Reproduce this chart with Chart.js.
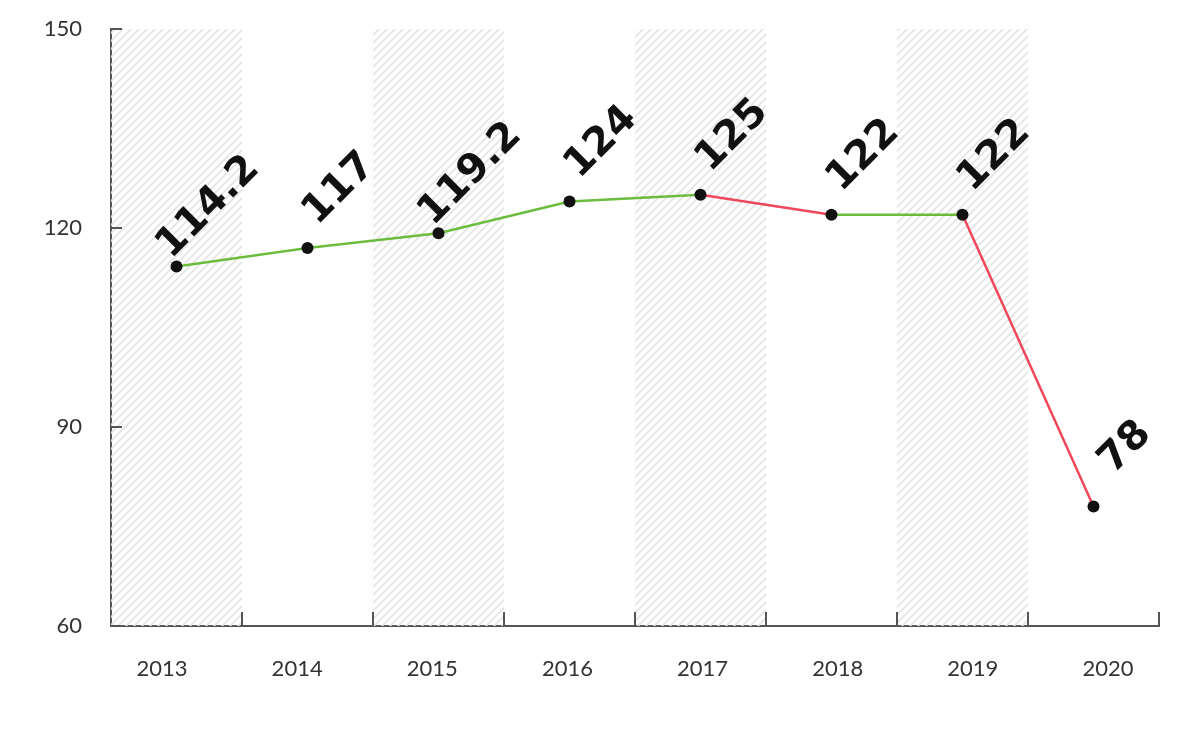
<!DOCTYPE html>
<html>
<head>
<meta charset="utf-8">
<script src="https://cdn.jsdelivr.net/npm/chart.js@4.4.1/dist/chart.umd.min.js"></script>
<style>
  body { margin: 0; background: #fff; }
  #wrap { width: 1199px; height: 729px; position: relative; }
</style>
</head>
<body>
<div id="wrap"><canvas id="chart"></canvas></div>
<script>
const years = ['2013', '2014', '2015', '2016', '2017', '2018', '2019', '2020']
const values = [114.2, 117, 119.2, 124, 125, 122, 122, 78]
const valueLabels = ['114.2', '117', '119.2', '124', '125', '122', '122', '78']
const yTicks = [60, 90, 120, 150]
// which category bands get the striped background
const stripedBands = [true, false, true, false, true, false, true, false]

const UP = '#6cbd3e'
const DOWN = '#f0475a'
const AXIS = '#555'

/** diagonal hatch pattern */
function makeHatch() {
    const c = document.createElement('canvas')
    c.width = 8
    c.height = 8
    const g = c.getContext('2d')
    g.strokeStyle = '#e4e4e4'
    g.lineWidth = 1.8
    g.beginPath()
    g.moveTo(0, 8); g.lineTo(8, 0)
    g.moveTo(-4, 4); g.lineTo(4, -4)
    g.moveTo(4, 12); g.lineTo(12, 4)
    g.stroke()
    return g.createPattern(c, 'repeat')
}

/** striped bands behind the line */
const bandsPlugin = {
    id: 'bands',
    beforeDatasetsDraw(chart) {
        const {ctx, chartArea, scales: {xp}} = chart
        const w = (xp.right - xp.left) / years.length
        ctx.save()
        ctx.fillStyle = makeHatch()
        stripedBands.forEach((on, i) => {
            if (!on) return
            const cx = xp.getPixelForValue(i)
            ctx.fillRect(cx - w / 2, chartArea.top, w, chartArea.bottom - chartArea.top)
        })
        ctx.restore()
    }
}

/** small tick marks pointing into the chart */
const ticksPlugin = {
    id: 'innerTicks',
    afterDraw(chart) {
        const {ctx, chartArea, scales: {xp, y}} = chart
        const w = (xp.right - xp.left) / years.length
        ctx.save()
        ctx.strokeStyle = AXIS
        ctx.lineWidth = 2
        ctx.beginPath()
        years.forEach((yr, i) => {
            const bx = Math.round(xp.getPixelForValue(i) + w / 2)
            ctx.moveTo(bx, chartArea.bottom)
            ctx.lineTo(bx, chartArea.bottom - 14)
        })
        yTicks.forEach(v => {
            const py = Math.round(y.getPixelForValue(v))
            ctx.moveTo(chartArea.left, py)
            ctx.lineTo(chartArea.left + 11, py)
        })
        ctx.stroke()
        ctx.restore()
    }
}

/** rotated value labels, centred above-right of each point */
const labelsPlugin = {
    id: 'valueLabels',
    afterDatasetsDraw(chart) {
        const {ctx} = chart
        const meta = chart.getDatasetMeta(0)
        ctx.save()
        ctx.fillStyle = '#111'
        ctx.font = 'bold 40px "DejaVu Sans"'
        ctx.textAlign = 'center'
        ctx.textBaseline = 'middle'
        meta.data.forEach((pt, i) => {
            ctx.save()
            ctx.translate(pt.x + 32, pt.y - 59)
            ctx.rotate(-Math.PI / 4)
            ctx.fillText(valueLabels[i], 0, 0)
            ctx.restore()
        })
        ctx.restore()
    }
}

new Chart(document.getElementById('chart'), {
    type: 'line',
    data: {
        labels: years,
        datasets: [{
            data: values,
            xAxisID: 'xp',
            borderWidth: 2.5,
            tension: 0,
            pointRadius: 6,
            pointBackgroundColor: '#111',
            pointBorderColor: '#111',
            pointBorderWidth: 0,
            segment: {
                borderColor: c => c.p1.parsed.y < c.p0.parsed.y ? DOWN : UP
            }
        }]
    },
    options: {
        responsive: true,
        maintainAspectRatio: false,
        animation: false,
        layout: { padding: { top: 29, right: 40, left: 0, bottom: 0 } },
        plugins: { legend: { display: false }, tooltip: { enabled: false } },
        scales: {
            // points sit on this one (hidden)
            xp: {
                type: 'category',
                offset: true,
                display: false
            },
            // year labels are spaced a bit wider than the points in the original
            x: {
                type: 'linear',
                position: 'bottom',
                min: -0.3774,
                max: 7.3774,
                afterBuildTicks(s) { s.ticks = years.map((yr, i) => ({value: i})) },
                grid: { display: false },
                border: { display: true, color: AXIS, width: 2 },
                ticks: {
                    color: '#333', padding: 22, autoSkip: false, maxRotation: 0,
                    font: { family: 'Lato', size: 22 },
                    callback: (v, i) => years[i]
                },
                afterFit(s) { s.height = 103; s.paddingLeft = 0; s.paddingRight = 0 }
            },
            y: {
                min: 60,
                max: 150,
                afterBuildTicks(s) { s.ticks = yTicks.map(v => ({value: v})) },
                grid: { display: false },
                border: { display: true, color: AXIS, width: 2 },
                ticks: { color: '#333', padding: 21, font: { family: 'Lato', size: 22 } },
                afterFit(s) { s.width = 111; s.paddingTop = 0; s.paddingBottom = 0 }
            }
        }
    },
    plugins: [bandsPlugin, ticksPlugin, labelsPlugin]
})
</script>
</body>
</html>
